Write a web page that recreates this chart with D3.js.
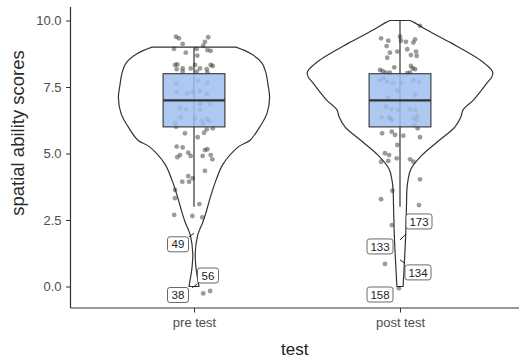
<!DOCTYPE html>
<html>
<head>
<meta charset="utf-8">
<script src="https://cdn.jsdelivr.net/npm/d3@7"></script>
<style>
  body { margin: 0; background: #fff; }
  svg text { font-family: "Liberation Sans", Arial, sans-serif; }
</style>
</head>
<body>
<div id="chart"></div>
<script>
// categories and summary values
var categories = ["pre test", "post test"];
var yTicks = [0, 2.5, 5, 7.5, 10];

// violin outlines: score and half width (in category units)
var preViolinScore = [9.0, 8.75, 8.4, 8.0, 7.6, 7.1, 6.5, 5.9, 5.5, 5.24, 4.6, 4.0, 3.4, 2.75, 2.38, 2.13, 1.9, 1.25, 0.62, 0.2, 0.0];
var preViolinWidth = [0.204, 0.277, 0.330, 0.350, 0.359, 0.367, 0.354, 0.311, 0.272, 0.214, 0.141, 0.107, 0.081, 0.057, 0.041, 0.027, 0.017, 0.006, 0.011, 0.020, 0.024];
var postViolinScore = [10.0, 9.93, 9.64, 9.14, 8.52, 8.08, 7.9, 7.64, 7.01, 6.64, 6.38, 6.0, 5.58, 4.94, 4.42, 4.0, 3.7, 2.88, 2.0, 1.0, 0.0];
var postViolinWidth = [0.049, 0.068, 0.131, 0.252, 0.388, 0.449, 0.447, 0.421, 0.356, 0.306, 0.296, 0.267, 0.204, 0.107, 0.053, 0.039, 0.034, 0.031, 0.028, 0.022, 0.015];

// boxplot stats: [lower whisker, q1, median, q3, upper whisker]
var preBox = [3, 6, 7, 8, 9];
var postBox = [3, 6, 7, 8, 10];

// jittered points (offset in category units, score)
var preJitter = [-0.087, -0.073, -0.055, -0.097, -0.040, 0.013, 0.016, 0.069, 0.053, 0.045, 0.065, 0.081,
  -0.092, -0.081, -0.055, -0.084, -0.016, 0.005, 0.013, 0.029, 0.062, 0.081, 0.091, 0.065, -0.055,
  -0.087, 0.018, 0.065, -0.084, -0.033, -0.006, 0.029, 0.062, -0.068, -0.039, 0.029, 0.078, 0.029,
  -0.065, 0.005, 0.037, 0.062, 0.074, -0.092, 0.045, 0.062, 0.091, -0.087, -0.044, 0.018, 0.049,
  -0.084, -0.055, -0.068, -0.081, -0.028, -0.016, 0.042, 0.053, 0.065, 0.081, 0.089, 0.053, -0.028,
  -0.006, -0.057, -0.024, -0.092, -0.092, 0.026, -0.096, -0.008, 0.040, 0.045, 0.078];
var preScore = [9.39, 9.33, 9.12, 8.93, 8.79, 8.93, 8.68, 9.37, 9.20, 9.05, 8.89, 8.86,
  8.33, 8.35, 8.20, 8.17, 8.20, 8.33, 8.08, 8.20, 8.17, 8.33, 8.29, 8.04, 8.08,
  7.64, 7.74, 7.66, 7.32, 7.26, 7.32, 7.35, 7.24, 6.70, 6.66, 6.86, 6.86, 6.64,
  6.36, 6.32, 6.23, 6.29, 6.23, 6.14, 6.10, 5.91, 5.95, 6.01, 5.76, 5.61, 5.78,
  5.26, 5.23, 4.94, 4.86, 5.03, 4.91, 4.91, 5.13, 5.16, 4.94, 4.78, 4.35, 4.15,
  4.07, 3.94, 3.94, 3.63, 3.32, 3.10, 2.69, 2.65, 2.60, -0.26, -0.17];
var postJitter = [0.097, -0.092, -0.057, 0.000, 0.005, 0.029, 0.073, 0.065, -0.065, 0.035, 0.078, 0.081,
  -0.013, -0.049, -0.062, 0.053, -0.028, 0.053, 0.073, 0.062, -0.097, -0.084, -0.068, -0.049, 0.035, 0.049,
  -0.081, -0.062, -0.033, 0.008, 0.065, 0.092, -0.013, 0.073, -0.057, 0.049, -0.040, -0.068, 0.081,
  -0.052, -0.008, -0.049, 0.065, 0.073, -0.097, -0.089, -0.040, 0.081, 0.069, 0.086, -0.087, -0.040,
  -0.024, 0.016, 0.097, -0.013, -0.073, -0.053, -0.092, -0.057, -0.016, 0.049, 0.065, 0.097, -0.037,
  -0.092, 0.092, -0.040, -0.073, -0.005];
var postScore = [9.80, 9.33, 9.24, 9.39, 9.24, 9.20, 9.29, 9.17, 9.04, 8.92, 8.83, 8.67,
  8.83, 8.79, 8.60, 8.70, 8.24, 8.29, 8.17, 8.20, 8.14, 8.10, 8.04, 8.04, 8.02, 8.04,
  7.83, 7.70, 7.64, 7.64, 7.76, 7.70, 7.36, 7.20, 7.10, 6.66, 6.66, 6.76, 6.41,
  6.36, 6.64, 6.32, 6.32, 6.64, 7.76, 6.36, 6.26, 6.26, 6.07, 5.95, 5.76, 5.82,
  5.70, 5.67, 5.61, 5.32, 5.01, 4.94, 4.69, 4.72, 4.82, 4.78, 4.69, 4.03, 3.60,
  3.28, 3.06, 2.31, 0.85, -0.07];

// labelled outliers
var outlierGroup = ["pre test", "pre test", "pre test", "post test", "post test", "post test", "post test"];
var outlierId = ["49", "56", "38", "173", "133", "134", "158"];
var outlierScore = [2.0, 0, 0, 1.75, 1.75, 1.0, 0];
// label placement (pixels from the point), as ggrepel left them
var labelNudge = [[-16, 11], [14, -11], [-16, 8.5], [19, -18.5], [-20, 6.5], [18, 12.5], [-20, 8]];

var width = 519, height = 360;
var svg = d3.select("#chart").append("svg")
  .attr("width", width)
  .attr("height", height);

var panel = {left: 70.5, right: 519, top: 7, bottom: 308};

var y = d3.scaleLinear().domain([0, 10]).range([286.5, 20.5]);
var x = d3.scalePoint().domain(categories).range([194, 400]);
var unit = d3.scaleLinear().domain([0, 1]).range([0, 206]);

var ink = "#333333";

// violins
var violins = [
  {cat: categories[0], s: preViolinScore, w: preViolinWidth},
  {cat: categories[1], s: postViolinScore, w: postViolinWidth}
];
violins.forEach(function (v) {
  var pts = v.s.map(function (s, i) { return {s: s, w: v.w[i]}; });
  var area = d3.area()
    .y(function (d) { return y(d.s); })
    .x0(function (d) { return x(v.cat) - unit(d.w); })
    .x1(function (d) { return x(v.cat) + unit(d.w); })
    .curve(d3.curveCatmullRom);
  svg.append("path")
    .attr("d", area(pts))
    .attr("fill", "white")
    .attr("stroke", ink)
    .attr("stroke-width", 1.2);
});

// whiskers
var boxes = [
  {cat: categories[0], b: preBox},
  {cat: categories[1], b: postBox}
];
boxes.forEach(function (d) {
  svg.append("line")
    .attr("x1", x(d.cat)).attr("x2", x(d.cat))
    .attr("y1", y(d.b[0])).attr("y2", y(d.b[4]))
    .attr("stroke", ink).attr("stroke-width", 1.2);
});

// jittered points
var jitterSets = [
  {cat: categories[0], dx: preJitter, s: preScore},
  {cat: categories[1], dx: postJitter, s: postScore}
];
jitterSets.forEach(function (set) {
  svg.append("g").selectAll("circle")
    .data(set.s)
    .enter()
    .append("circle")
    .attr("cx", function (d, i) { return x(set.cat) + unit(set.dx[i]); })
    .attr("cy", function (d) { return y(d); })
    .attr("r", 2.4)
    .attr("fill", "#222")
    .attr("fill-opacity", 0.45);
});

// boxes
var boxHalf = 0.15;
boxes.forEach(function (d) {
  var cx = x(d.cat);
  svg.append("rect")
    .attr("x", cx - unit(boxHalf))
    .attr("y", y(d.b[3]))
    .attr("width", unit(boxHalf) * 2)
    .attr("height", y(d.b[1]) - y(d.b[3]))
    .attr("fill", "#9fbff0")
    .attr("fill-opacity", 0.85)
    .attr("stroke", ink)
    .attr("stroke-width", 1.1);
  svg.append("line")
    .attr("x1", cx - unit(boxHalf)).attr("x2", cx + unit(boxHalf))
    .attr("y1", y(d.b[2])).attr("y2", y(d.b[2]))
    .attr("stroke", ink).attr("stroke-width", 2.2);
});

// outlier labels
outlierId.forEach(function (id, i) {
  var px = x(outlierGroup[i]), py = y(outlierScore[i]);
  var lx = px + labelNudge[i][0], ly = py + labelNudge[i][1];
  var bw = id.length === 2 ? 21 : 26, bh = 15;
  // segment from the point to the edge of the label
  var dx = lx - px, dy = ly - py;
  var t = Math.min((Math.abs(dx) - bw / 2) / Math.abs(dx), (Math.abs(dy) - bh / 2) / Math.abs(dy));
  if (t > 0.05) {
    svg.append("line")
      .attr("x1", px).attr("y1", py)
      .attr("x2", px + dx * t).attr("y2", py + dy * t)
      .attr("stroke", "#111").attr("stroke-width", 0.9);
  }
  svg.append("rect")
    .attr("x", lx - bw / 2).attr("y", ly - bh / 2)
    .attr("width", bw).attr("height", bh)
    .attr("rx", 2.5)
    .attr("fill", "white")
    .attr("stroke", "#444").attr("stroke-width", 0.8);
  svg.append("text")
    .attr("x", lx).attr("y", ly)
    .attr("dy", "0.36em")
    .attr("text-anchor", "middle")
    .attr("font-size", 11.5)
    .style("fill", "#222")
    .text(id);
});

// axes
var yAxis = svg.append("g")
  .attr("transform", "translate(" + panel.left + ",0)")
  .call(d3.axisLeft(y).tickValues(yTicks).tickFormat(d3.format(".1f")).tickSize(4.5).tickPadding(4.5));
var xAxis = svg.append("g")
  .attr("transform", "translate(0," + panel.bottom + ")")
  .call(d3.axisBottom(x).tickSize(4.5).tickPadding(5));
[yAxis, xAxis].forEach(function (g) {
  g.select(".domain").remove();
  g.selectAll(".tick line").attr("stroke", ink);
  g.selectAll(".tick text")
    .style("fill", "#4d4d4d")
    .style("font-size", "13px")
    .style("font-family", "'Liberation Sans', Arial, sans-serif");
});
svg.append("line")
  .attr("x1", panel.left).attr("x2", panel.left)
  .attr("y1", panel.top).attr("y2", panel.bottom)
  .attr("stroke", ink).attr("stroke-width", 1.2);
svg.append("line")
  .attr("x1", panel.left).attr("x2", panel.right)
  .attr("y1", panel.bottom).attr("y2", panel.bottom)
  .attr("stroke", ink).attr("stroke-width", 1.2);

// axis titles
svg.append("text")
  .attr("x", (panel.left + panel.right) / 2)
  .attr("y", 355)
  .attr("text-anchor", "middle")
  .attr("font-size", 17)
  .style("fill", "#222")
  .text("test");
svg.append("text")
  .attr("transform", "translate(24,133) rotate(-90)")
  .attr("text-anchor", "middle")
  .attr("font-size", 18.5)
  .style("fill", "#2a2a2a")
  .text("spatial ability scores");
</script>
</body>
</html>
